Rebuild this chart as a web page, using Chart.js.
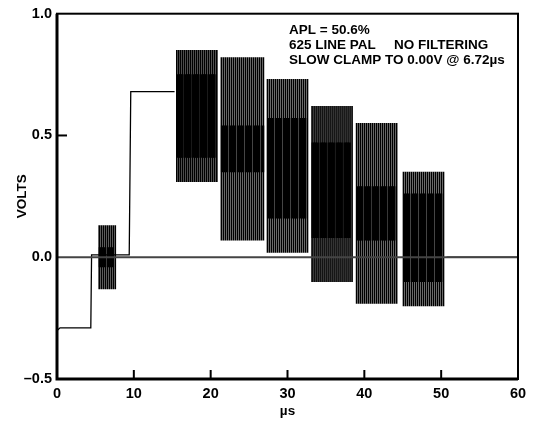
<!DOCTYPE html>
<html>
<head>
<meta charset="utf-8">
<title>625 line PAL waveform</title>
<script src="https://cdn.jsdelivr.net/npm/chart.js@4/dist/chart.umd.min.js"></script>
<style>
  html, body { margin: 0; padding: 0; background: #fff; }
  canvas { display: block; }
</style>
</head>
<body>
<canvas id="wave" width="538" height="423"></canvas>
<script>
// x axis (µs) and y axis (volts) ticks
const xTicks = [0, 10, 20, 30, 40, 50, 60];
const yTicks = [-0.5, 0.0, 0.5, 1.0];

// sync tip, back porch, white bar, then blanking after the staircase
const traceT = [0, 0.05, 0.4, 4.4, 4.5, 9.4, 9.6, 15.3, 15.3, 50.7, 60];
const traceV = [-0.23, -0.30, -0.29, -0.29, 0.01, 0.01, 0.68, 0.68, null, 0.0, 0.0];

// colour burst + six chroma steps: start/end (µs), outer and dense envelope (V)
const burstStart = [5.5, 15.6, 21.4, 27.4, 33.2, 39.0, 45.1];
const burstEnd   = [7.8, 20.9, 27.0, 32.7, 38.4, 44.4, 50.3];
const burstHigh  = [0.13, 0.85, 0.82, 0.73, 0.62, 0.55, 0.35];
const burstLow   = [-0.13, 0.31, 0.07, 0.02, -0.10, -0.19, -0.20];
const denseHigh  = [0.04, 0.75, 0.54, 0.57, 0.47, 0.29, 0.26];
const denseLow   = [-0.04, 0.41, 0.35, 0.16, 0.08, 0.07, -0.10];

const notes = ['APL = 50.6%', '625 LINE PAL', 'NO FILTERING', 'SLOW CLAMP TO 0.00V @ 6.72\u00b5s'];

const linePitch = 0.26;   // spacing of the sparse subcarrier lines
const densePitch = 0.26;

const trace = traceT.map((t, i) => ({ x: t, y: traceV[i] }));
const outerBars = [];
const denseBars = [];
burstStart.forEach((start, i) => {
    for (let t = start; t <= burstEnd[i]; t += linePitch) {
        outerBars.push({ x: t, y: [burstLow[i], burstHigh[i]] });
    }
    let k = 0;
    for (let t = start + 0.15; t <= burstEnd[i] - 0.1; t += densePitch, k++) {
        if (k % 4 !== 3) denseBars.push({ x: t, y: [denseLow[i], denseHigh[i]] });
    }
});

const FONT = 'Liberation Sans, Arial, sans-serif';

const frame = {
    id: 'frame',
    afterDatasetsDraw(chart) {
        const { ctx, chartArea: a, scales } = chart;
        ctx.save();
        // zero reference line
        const y0 = scales.y.getPixelForValue(0);
        ctx.strokeStyle = '#444';
        ctx.lineWidth = 2;
        ctx.beginPath();
        ctx.moveTo(a.left, y0);
        ctx.lineTo(a.right, y0);
        ctx.stroke();
        // inward tick marks
        ctx.strokeStyle = '#000';
        ctx.lineWidth = 2;
        xTicks.slice(1, -1).forEach(v => {
            const x = scales.x.getPixelForValue(v);
            ctx.beginPath();
            ctx.moveTo(x, a.bottom);
            ctx.lineTo(x, a.bottom - 9);
            ctx.stroke();
        });
        [0.5].forEach(v => {
            const y = scales.y.getPixelForValue(v);
            ctx.beginPath();
            ctx.moveTo(a.left, y);
            ctx.lineTo(a.left + 10, y);
            ctx.stroke();
        });
        // box
        ctx.lineWidth = 2;
        ctx.strokeRect(a.left, a.top, a.right - a.left, a.bottom - a.top);
        ctx.lineWidth = 3;
        ctx.beginPath();
        ctx.moveTo(a.left, a.top);
        ctx.lineTo(a.left, a.bottom);
        ctx.lineTo(a.right, a.bottom);
        ctx.stroke();
        // notes
        ctx.fillStyle = '#000';
        ctx.font = 'bold 13.5px ' + FONT;
        ctx.textBaseline = 'middle';
        ctx.fillText(notes[0], 289, 30);
        ctx.fillText(notes[1], 289, 45);
        ctx.fillText(notes[2], 394, 45);
        ctx.fillText(notes[3], 289, 60);
        ctx.restore();
    }
};

new Chart(document.getElementById('wave'), {
    type: 'bar',
    data: {
        datasets: [
            {
                type: 'line',
                data: trace,
                borderColor: '#000',
                borderWidth: 1.3,
                pointRadius: 0,
                tension: 0,
                spanGaps: false
            },
            {
                data: outerBars,
                backgroundColor: '#000',
                barThickness: 1.05,
                grouped: false
            },
            {
                data: denseBars,
                backgroundColor: '#000',
                barThickness: 2.7,
                grouped: false
            }
        ]
    },
    options: {
        responsive: false,
        animation: false,
        devicePixelRatio: 1,
        layout: { padding: { top: 11, right: 20, left: 0, bottom: 0 } },
        plugins: { legend: { display: false }, tooltip: { enabled: false } },
        scales: {
            x: {
                type: 'linear',
                min: 0, max: 60,
                offset: false,
                afterBuildTicks: s => { s.ticks = xTicks.map(v => ({ value: v })); },
                afterFit: s => { s.height = 44; },
                grid: { display: false, drawTicks: false },
                border: { display: false },
                ticks: { color: '#000', font: { family: FONT, size: 14.5, weight: 'bold' }, padding: 6, maxRotation: 0 },
                title: { display: true, text: '\u00b5s', color: '#000', font: { family: FONT, size: 13.5, weight: 'bold' }, padding: { top: 0 } }
            },
            y: {
                min: -0.5, max: 1.0,
                afterBuildTicks: s => { s.ticks = yTicks.map(v => ({ value: v })); },
                afterFit: s => { s.width = 57; },
                grid: { display: false, drawTicks: false },
                border: { display: false },
                ticks: {
                    color: '#000',
                    font: { family: FONT, size: 14.5, weight: 'bold' },
                    padding: 5,
                    callback: v => (v < 0 ? '\u2013' : '') + Math.abs(v).toFixed(1)
                },
                title: { display: true, text: 'VOLTS', color: '#000', font: { family: FONT, size: 13.5, weight: 'bold' }, padding: { top: 14, bottom: 0 } }
            }
        }
    },
    plugins: [frame]
});
</script>
</body>
</html>
